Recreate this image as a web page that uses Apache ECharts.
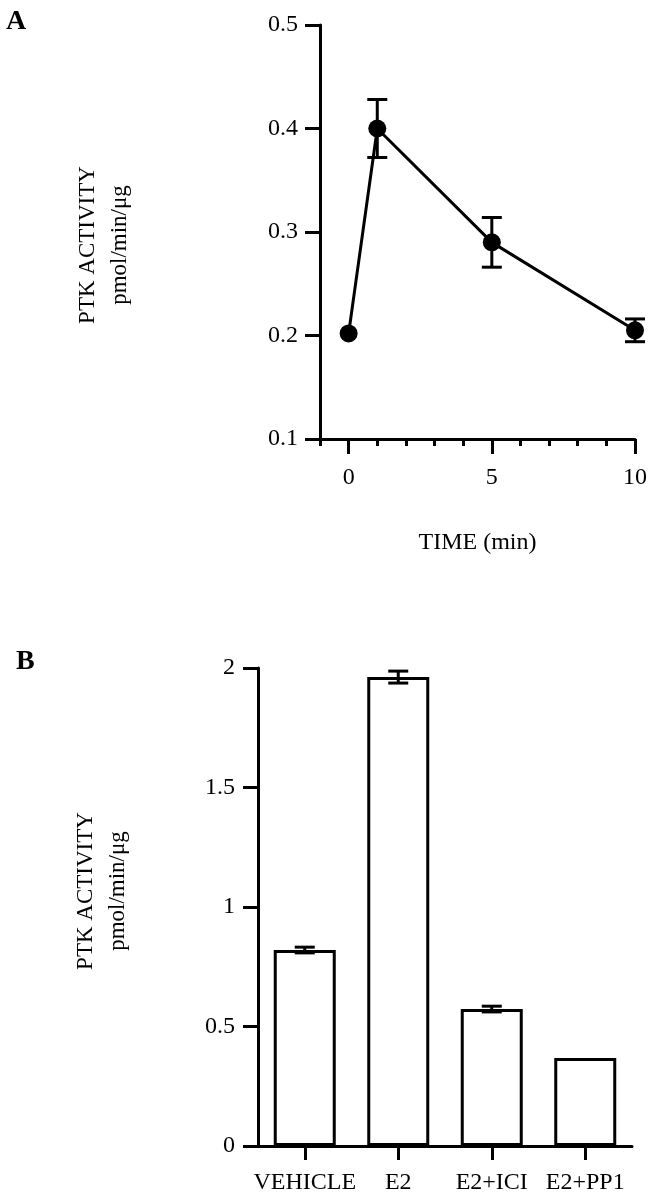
<!DOCTYPE html>
<html>
<head>
<meta charset="utf-8">
<script src="https://cdn.jsdelivr.net/npm/echarts@6/dist/echarts.min.js"></script>
<style>
html,body{margin:0;padding:0;background:#fff;}
#c{width:654px;height:1200px;}
</style>
</head>
<body>
<div id="c"></div>
<script>
// Panel A: time course
const timeMin = [0, 1, 5, 10];
const activityA = [0.202, 0.400, 0.290, 0.205];
const errorA = [0, 0.028, 0.024, 0.011];
const xTickLabelsA = [0, 5, 10];
const yTicksA = [0.1, 0.2, 0.3, 0.4, 0.5];

// Panel B: treatments
const categoriesB = ['VEHICLE', 'E2', 'E2+ICI', 'E2+PP1'];
const activityB = [0.82, 1.962, 0.573, 0.368];
const errorB = [0.012, 0.025, 0.012, 0];
const yTicksB = [0, 0.5, 1, 1.5, 2];

const FONT = "Liberation Serif";
const chart = echarts.init(document.getElementById('c'), null, {renderer: 'canvas'});

function errRender(capW) {
  return function (params, api) {
    const x = api.value(0), y = api.value(1), e = api.value(2);
    if (!e) return null;
    const top = api.coord([x, y + e]);
    const bot = api.coord([x, y - e]);
    const st = {stroke: '#000', lineWidth: 3};
    return {
      type: 'group',
      children: [
        {type: 'line', shape: {x1: top[0], y1: top[1], x2: bot[0], y2: bot[1]}, style: st},
        {type: 'line', shape: {x1: top[0] - capW / 2, y1: top[1], x2: top[0] + capW / 2, y2: top[1]}, style: st},
        {type: 'line', shape: {x1: bot[0] - capW / 2, y1: bot[1], x2: bot[0] + capW / 2, y2: bot[1]}, style: st}
      ]
    };
  };
}

const axisLineStyle = {color: '#000', width: 3};
const labelStyle = {color: '#000', fontFamily: FONT, fontSize: 24};

chart.setOption({
  backgroundColor: '#fff',
  animation: false,
  grid: [
    {left: 320, right: 19, top: 25, bottom: 761},
    {left: 258, right: 22, top: 668, bottom: 54}
  ],
  xAxis: [
    {
      type: 'value', gridIndex: 0, min: -1, max: 10, interval: 1,
      name: 'TIME (min)', nameLocation: 'middle', nameGap: 92,
      nameTextStyle: {color: '#000', fontFamily: FONT, fontSize: 24},
      axisLine: {show: true, onZero: false, lineStyle: axisLineStyle},
      axisTick: {show: true, length: 7, lineStyle: {color: '#000', width: 3}},
      axisLabel: Object.assign({customValues: xTickLabelsA, margin: 27}, labelStyle),
      splitLine: {show: false}
    },
    {
      type: 'value', gridIndex: 0, min: -1, max: 10, position: 'bottom',
      axisLine: {show: false, onZero: false},
      axisTick: {show: true, customValues: xTickLabelsA, length: 15, lineStyle: {color: '#000', width: 3}},
      axisLabel: {show: false},
      splitLine: {show: false}
    },
    {
      type: 'category', gridIndex: 1, data: categoriesB,
      axisLine: {show: true, onZero: false, lineStyle: axisLineStyle},
      axisTick: {show: true, alignWithLabel: true, length: 14, lineStyle: {color: '#000', width: 3}},
      axisLabel: Object.assign({margin: 25, interval: 0}, labelStyle),
      splitLine: {show: false}
    }
  ],
  yAxis: [
    {
      type: 'value', gridIndex: 0, min: 0.1, max: 0.5, interval: 0.1,
      axisLine: {show: true, onZero: false, lineStyle: axisLineStyle},
      axisTick: {show: true, length: 15, lineStyle: {color: '#000', width: 3}},
      axisLabel: Object.assign({margin: 22, customValues: yTicksA, formatter: v => v.toFixed(1)}, labelStyle),
      splitLine: {show: false}
    },
    {
      type: 'value', gridIndex: 1, min: 0, max: 2, interval: 0.5,
      axisLine: {show: true, onZero: false, lineStyle: axisLineStyle},
      axisTick: {show: true, length: 15, lineStyle: {color: '#000', width: 3}},
      axisLabel: Object.assign({margin: 23, customValues: yTicksB, formatter: v => String(v)}, labelStyle),
      splitLine: {show: false}
    }
  ],
  graphic: [
    {type: 'text', left: 6, top: 8, style: {text: 'A', font: "bold 28px 'Liberation Serif'", fill: '#000'}},
    {type: 'text', left: 16, top: 648, style: {text: 'B', font: "bold 28px 'Liberation Serif'", fill: '#000'}},
    {type: 'text', x: 104, y: 245, rotation: Math.PI / 2,
     style: {text: 'PTK ACTIVITY\npmol/min/μg', font: "23px 'Liberation Serif'", fill: '#000',
             align: 'center', verticalAlign: 'middle', lineHeight: 32}},
    {type: 'text', x: 102, y: 891, rotation: Math.PI / 2,
     style: {text: 'PTK ACTIVITY\npmol/min/μg', font: "23px 'Liberation Serif'", fill: '#000',
             align: 'center', verticalAlign: 'middle', lineHeight: 32}}
  ],
  series: [
    {
      type: 'line', xAxisIndex: 0, yAxisIndex: 0,
      data: timeMin.map((t, i) => [t, activityA[i]]),
      symbol: 'circle', symbolSize: 18,
      itemStyle: {color: '#000'},
      lineStyle: {color: '#000', width: 3},
      z: 3
    },
    {
      type: 'custom', xAxisIndex: 0, yAxisIndex: 0,
      data: timeMin.map((t, i) => [t, activityA[i], errorA[i]]),
      renderItem: errRender(20), z: 4
    },
    {
      type: 'bar', xAxisIndex: 2, yAxisIndex: 1,
      data: activityB, barWidth: 62,
      itemStyle: {color: '#fff', borderColor: '#000', borderWidth: 3}
    },
    {
      type: 'custom', xAxisIndex: 2, yAxisIndex: 1,
      data: categoriesB.map((c, i) => [i, activityB[i], errorB[i]]),
      renderItem: errRender(20), z: 4
    }
  ]
});
</script>
</body>
</html>
